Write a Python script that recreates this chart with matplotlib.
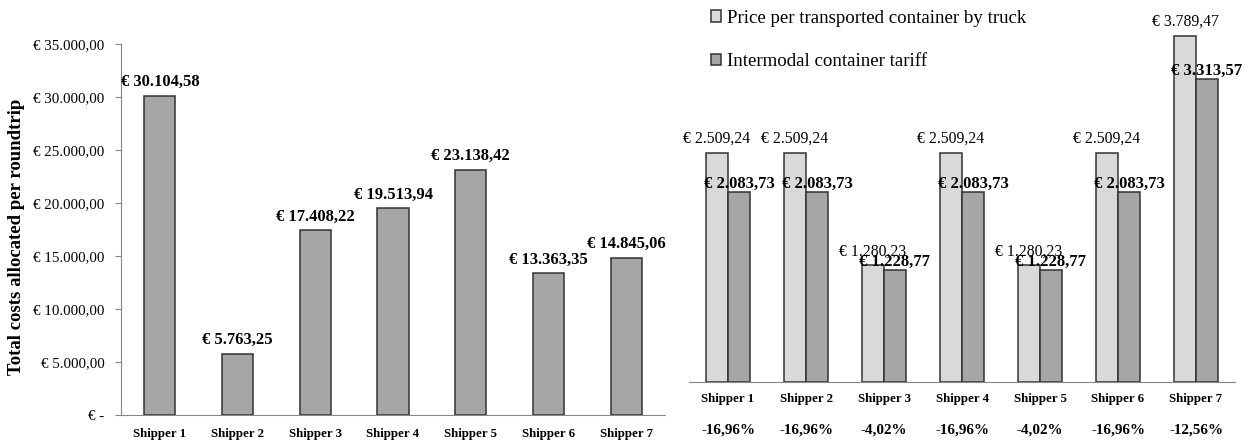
import numpy as np
import matplotlib
matplotlib.use("Agg")
import matplotlib.pyplot as plt
from matplotlib.transforms import blended_transform_factory

#*--data--------------------------------------------------------------------
shippers = ["Shipper 1", "Shipper 2", "Shipper 3", "Shipper 4",
            "Shipper 5", "Shipper 6", "Shipper 7"]
total_costs = [30104.58, 5763.25, 17408.22, 19513.94, 23138.42, 13363.35, 14845.06]

truck_price = [2509.24, 2509.24, 1280.23, 2509.24, 1280.23, 2509.24, 3789.47]
intermodal_tariff = [2083.73, 2083.73, 1228.77, 2083.73, 1228.77, 2083.73, 3313.57]
diff_labels = ["-16,96%", "-16,96%", "-4,02%", "-16,96%", "-4,02%", "-16,96%", "-12,56%"]

left_ticks = [0, 5000, 10000, 15000, 20000, 25000, 30000, 35000]
left_ticklabels = ["€ -", "€ 5.000,00", "€ 10.000,00", "€ 15.000,00", "€ 20.000,00",
                   "€ 25.000,00", "€ 30.000,00", "€ 35.000,00"]
legend_labels = ["Price per transported container by truck", "Intermodal container tariff"]
#*--------------------------------------------------------------------------


def eur(v):
    s = "{:,.2f}".format(v)
    s = s.replace(",", "X").replace(".", ",").replace("X", ".")
    return "€ " + s


plt.rcParams['font.family'] = ['Liberation Serif', 'DejaVu Serif']

W, H = 1250, 444
fig = plt.figure(figsize=(W / 100, H / 100), dpi=100)


def px_axes(x0, x1, ytop, ybot):
    return fig.add_axes([x0 / W, (H - ybot) / H, (x1 - x0) / W, (ybot - ytop) / H])


axis_col = "#868686"
edge_col = "#333333"
x = np.arange(len(shippers))

#*--left chart------------------------------------------------------------
ax1 = px_axes(121, 665, 44, 415)
ax1.bar(x, total_costs, width=0.40, color="#a6a6a6", edgecolor=edge_col, linewidth=1.1)
for xi, v in zip(x, total_costs):
    ax1.annotate(eur(v), (xi, v), xytext=(0, 4), textcoords="offset points",
                 ha="center", va="bottom", fontsize=11.9, fontweight="bold")
ax1.set_xlim(-0.5, len(shippers) - 0.5)
ax1.set_ylim(0, 35000)
ax1.set_yticks(left_ticks)
ax1.set_yticklabels(left_ticklabels, fontsize=10.8)
ax1.set_xticks(x)
ax1.set_xticklabels(shippers, fontsize=9.3, fontweight="bold")
ax1.tick_params(axis="x", length=0, pad=9)
ax1.tick_params(axis="y", length=4, color=axis_col, pad=8)
for s in ["top", "right"]:
    ax1.spines[s].set_visible(False)
ax1.spines["left"].set_color(axis_col)
ax1.spines["bottom"].set_color(axis_col)
ax1.set_ylabel("Total costs allocated per roundtrip", fontsize=13.5, fontweight="bold")
ax1.yaxis.set_label_coords(-0.176, 0.48)

#*--right chart-----------------------------------------------------------
ax2 = px_axes(689, 1235, 20, 382)
bw = 0.282
b1 = ax2.bar(x - bw / 2, truck_price, width=bw, color="#d9d9d9",
             edgecolor=edge_col, linewidth=1.1, label=legend_labels[0])
b2 = ax2.bar(x + bw / 2, intermodal_tariff, width=bw, color="#a6a6a6",
             edgecolor=edge_col, linewidth=1.1, label=legend_labels[1])
for xi, v in zip(x, truck_price):
    ax2.annotate(eur(v), (xi - bw / 2, v), xytext=(0, 4), textcoords="offset points",
                 ha="center", va="bottom", fontsize=11.3)
for xi, v in zip(x, intermodal_tariff):
    ax2.annotate(eur(v), (xi + bw / 2, v), xytext=(0, 0), textcoords="offset points",
                 ha="center", va="bottom", fontsize=12, fontweight="bold")
ax2.set_xlim(-0.5, len(shippers) - 0.5)
ax2.set_ylim(0, 362 / 0.09139)
ax2.set_yticks([])
ax2.set_xticks(x)
ax2.set_xticklabels(shippers, fontsize=9.3, fontweight="bold")
ax2.tick_params(axis="x", length=0, pad=8)
for s in ["top", "right", "left"]:
    ax2.spines[s].set_visible(False)
ax2.spines["bottom"].set_color(axis_col)

trans = blended_transform_factory(ax2.transData, ax2.transAxes)
for xi, lab in zip(x, diff_labels):
    ax2.text(xi, -48 / 362, lab, transform=trans, ha="center", va="center",
             fontsize=10.9, fontweight="bold")

fig.legend(handles=[b1, b2], labels=legend_labels, loc="center left",
           bbox_to_anchor=(711 / W, (H - 40) / H), frameon=False, fontsize=13.6,
           handlelength=0.55, handleheight=0.55, handletextpad=0.3,
           labelspacing=1.4, borderpad=0, borderaxespad=0)

fig.savefig("out.png", dpi=100)
